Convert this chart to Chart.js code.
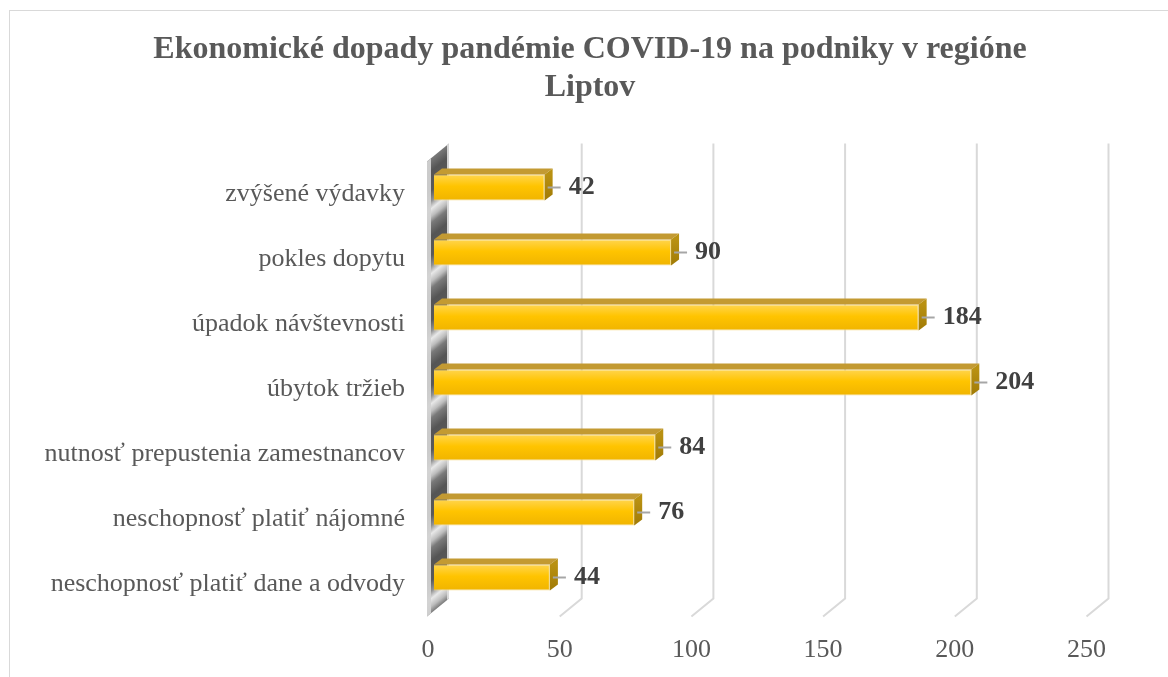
<!DOCTYPE html>
<html>
<head>
<meta charset="utf-8">
<script src="https://cdn.jsdelivr.net/npm/chart.js@4.4.0/dist/chart.umd.min.js"></script>
<style>
    html, body { margin: 0; padding: 0; background: #fff; overflow: hidden; }
    #wrap { position: relative; width: 1168px; height: 677px; }
    #frame { position: absolute; left: 9px; top: 10px; width: 1200px; height: 700px; border: 1px solid #d9d9d9; box-sizing: border-box; }
    canvas { position: absolute; left: 0; top: 0; }
</style>
</head>
<body>
<div id="wrap">
    <div id="frame"></div>
    <canvas id="dopadyChart" width="1168" height="677"></canvas>
</div>
<script>
const titleLines = ["Ekonomické dopady pandémie COVID-19 na podniky v regióne", "Liptov"];
const categories = [
    "zvýšené výdavky",
    "pokles dopytu",
    "úpadok návštevnosti",
    "úbytok tržieb",
    "nutnosť prepustenia zamestnancov",
    "neschopnosť platiť nájomné",
    "neschopnosť platiť dane a odvody",
];
const values = [42, 90, 184, 204, 84, 76, 44];
const xTicks = [0, 50, 100, 150, 200, 250];

// 3D look: back wall sits up-right of the floor, bars sit between the two
const WALL = { dx: 22, dy: -18 };
const BAR_SHIFT = { dx: 6, dy: -6.5 };
const BAR_DEPTH = { dx: 8, dy: -6 };

const SERIF = '"Liberation Serif", "Times New Roman", serif';
Chart.defaults.font.family = SERIF;
Chart.defaults.color = "#595959";

function drawWall(ctx, area) {
    const x0 = area.left - 1;
    const w = WALL.dx;
    const k = WALL.dy / w;
    ctx.save();
    ctx.beginPath();
    ctx.moveTo(x0, area.top);
    ctx.lineTo(x0 + w, area.top + WALL.dy);
    ctx.lineTo(x0 + w, area.bottom + WALL.dy);
    ctx.lineTo(x0, area.bottom);
    ctx.closePath();
    ctx.clip();

    // skew so the shading bands follow the slope of the wall
    ctx.translate(x0, 0);
    ctx.transform(1, k, 0, 1, 0, 0);
    const band = (area.bottom - area.top) / categories.length;
    for (let i = -1; i <= categories.length; i++) {
        const c = area.top + band * (i + 0.5) + BAR_SHIFT.dy;
        const top = c - band / 2;
        const g = ctx.createLinearGradient(0, top, 0, top + band);
        g.addColorStop(0, "#bdbdbd");
        g.addColorStop(0.1, "#7a7a7a");
        g.addColorStop(0.3, "#555555");
        g.addColorStop(0.6, "#5a5a5a");
        g.addColorStop(0.76, "#919191");
        g.addColorStop(0.88, "#e8e8e8");
        g.addColorStop(1, "#bdbdbd");
        ctx.fillStyle = g;
        ctx.fillRect(0, top, w, band + 1);
    }
    // light edges of the wall
    ctx.fillStyle = "rgba(210,210,210,0.95)";
    ctx.fillRect(0, area.top - 40, 4, area.bottom - area.top + 80);
    ctx.fillStyle = "rgba(225,225,225,0.9)";
    ctx.fillRect(w - 2, area.top - 40, 2, area.bottom - area.top + 80);
    ctx.restore();
}

const box3d = {
    id: "box3d",
    beforeDatasetsDraw(chart) {
        const { ctx, chartArea: area, scales } = chart;
        const xs = scales.x;
        ctx.save();
        ctx.strokeStyle = "#d9d9d9";
        ctx.lineWidth = 2;
        xTicks.forEach((v) => {
            if (v === 0) return;
            const xf = xs.getPixelForValue(v);
            ctx.beginPath();
            ctx.moveTo(xf + WALL.dx, area.top + WALL.dy);
            ctx.lineTo(xf + WALL.dx, area.bottom + WALL.dy);
            ctx.lineTo(xf, area.bottom);
            ctx.stroke();
        });
        ctx.restore();
        drawWall(ctx, area);
    },
    beforeDatasetDraw(chart) {
        chart.ctx.save();
        chart.ctx.translate(BAR_SHIFT.dx, BAR_SHIFT.dy);
    },
    afterDatasetDraw(chart, args) {
        const ctx = chart.ctx;
        const meta = args.meta;
        meta.data.forEach((bar, i) => {
            const { x, y, base, height } = bar.getProps(["x", "y", "base", "height"], true);
            const top = y - height / 2;
            const bottom = y + height / 2;
            const { dx, dy } = BAR_DEPTH;

            // top face
            ctx.beginPath();
            ctx.moveTo(base, top);
            ctx.lineTo(x, top);
            ctx.lineTo(x + dx, top + dy);
            ctx.lineTo(base + dx, top + dy);
            ctx.closePath();
            ctx.fillStyle = "#c39a32";
            ctx.fill();

            // end face
            const side = ctx.createLinearGradient(0, top, 0, bottom);
            side.addColorStop(0, "#b99112");
            side.addColorStop(1, "#a07a05");
            ctx.beginPath();
            ctx.moveTo(x, top);
            ctx.lineTo(x + dx, top + dy);
            ctx.lineTo(x + dx, bottom + dy);
            ctx.lineTo(x, bottom);
            ctx.closePath();
            ctx.fillStyle = side;
            ctx.fill();

            // leader line and value
            ctx.strokeStyle = "#a6a6a6";
            ctx.lineWidth = 2;
            ctx.beginPath();
            ctx.moveTo(x + 3, y);
            ctx.lineTo(x + 16, y);
            ctx.stroke();

            ctx.fillStyle = "#404040";
            ctx.font = "bold 26px " + SERIF;
            ctx.textAlign = "left";
            ctx.textBaseline = "middle";
            ctx.fillText(String(values[i]), x + 24, y);
        });
        ctx.restore();
    },
};

new Chart(document.getElementById("dopadyChart"), {
    type: "bar",
    data: {
        labels: categories,
        datasets: [
            {
                data: values,
                backgroundColor: (context) => {
                    const chart = context.chart;
                    const ys = chart.scales.y;
                    const c = ys ? ys.getPixelForValue(context.dataIndex) : NaN;
                    if (!Number.isFinite(c)) return "#ffc400";
                    const g = chart.ctx.createLinearGradient(0, c - 13, 0, c + 13);
                    g.addColorStop(0, "#ffd54f");
                    g.addColorStop(0.45, "#ffc400");
                    g.addColorStop(1, "#f0b400");
                    return g;
                },
                borderColor: "#f5dc8c",
                borderWidth: 1,
                barPercentage: 0.4,
                categoryPercentage: 1,
                clip: false,
            },
        ],
    },
    options: {
        indexAxis: "y",
        responsive: false,
        devicePixelRatio: 1,
        animation: false,
        layout: {
            padding: { top: 0, left: 12, right: 0, bottom: 0 },
        },
        scales: {
            x: {
                min: 0,
                max: 250,
                afterBuildTicks: (scale) => {
                    scale.ticks = xTicks.map((v) => ({ value: v }));
                },
                afterFit: (scale) => {
                    scale.height = 60.5;
                },
                grid: { display: false, drawTicks: false },
                border: { display: false },
                ticks: {
                    padding: 18,
                    font: { size: 26, family: SERIF },
                    color: "#595959",
                    maxRotation: 0,
                },
            },
            y: {
                afterFit: (scale) => {
                    scale.width = 416;
                },
                grid: { display: false, drawTicks: false },
                border: { display: false },
                ticks: {
                    padding: 23,
                    font: { size: 26, family: SERIF },
                    color: "#595959",
                    autoSkip: false,
                },
            },
            // empty strip on the right, keeps the plot narrower than the frame
            spacer: {
                type: "linear",
                position: "right",
                display: true,
                afterFit: (scale) => {
                    scale.width = 81.5;
                },
                grid: { display: false, drawTicks: false },
                border: { display: false },
                ticks: { display: false },
            },
        },
        plugins: {
            legend: { display: false },
            tooltip: { enabled: false },
            title: {
                display: true,
                text: titleLines,
                color: "#595959",
                font: { size: 32, weight: "bold", family: SERIF, lineHeight: 1.2 },
                padding: { top: 30.2, bottom: 54.5 },
            },
        },
    },
    plugins: [box3d],
});
</script>
</body>
</html>
